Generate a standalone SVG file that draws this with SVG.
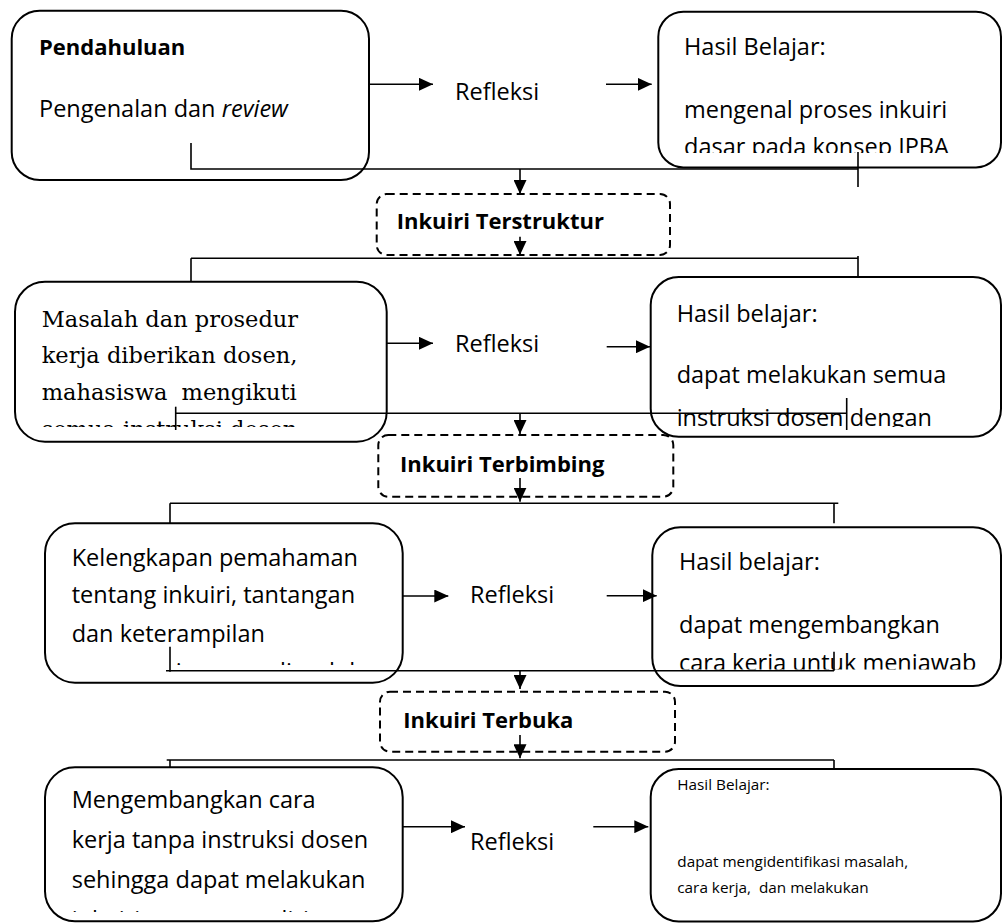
<svg xmlns="http://www.w3.org/2000/svg" width="1002" height="924" viewBox="0 0 1002 924">
  <defs>
    <style>
      .box { fill: none; stroke: #000; stroke-width: 2; }
      .dash { fill: none; stroke: #000; stroke-width: 2; stroke-dasharray: 8 5; }
      .ln { fill: none; stroke: #000; stroke-width: 1.6; }
      .arr { fill: none; stroke: #000; stroke-width: 1.6; marker-end: url(#head); }
      .t { font-family: "Open Sans", "Liberation Sans", sans-serif; font-size: 23.5px; fill: #000; }
      .b { font-family: "Open Sans", "Liberation Sans", sans-serif; font-size: 22px; font-weight: bold; fill: #000; }
      .s { font-family: "DejaVu Serif", "Liberation Serif", serif; font-size: 22.5px; fill: #000; }
      .sm { font-family: "Open Sans", "Liberation Sans", sans-serif; font-size: 15.3px; fill: #000; }
    </style>
    <marker id="head" viewBox="0 0 14 13" refX="14" refY="6.5" markerWidth="14" markerHeight="13" markerUnits="userSpaceOnUse" orient="auto">
      <path d="M0,0 L14,6.5 L0,13 Z" fill="#000"/>
    </marker>
    <!-- text areas that overflow their boxes are cut at these heights -->
    <clipPath id="c-b3"><rect x="650" y="0" width="352" height="153"/></clipPath>
    <clipPath id="c-b2"><rect x="0" y="270" width="400" height="157"/></clipPath>
    <clipPath id="c-b4"><rect x="650" y="270" width="352" height="157"/></clipPath>
    <clipPath id="c-b5"><rect x="40" y="520" width="370" height="145"/></clipPath>
    <clipPath id="c-b6"><rect x="650" y="520" width="352" height="149.5"/></clipPath>
    <clipPath id="c-b7"><rect x="40" y="760" width="370" height="152"/></clipPath>
  </defs>

  <rect width="1002" height="924" fill="#fff"/>

  <!-- Row 1 -->
  <g id="pendahuluan">
    <rect class="box" x="11.7" y="10.7" width="357.3" height="169.3" rx="28"/>
    <text class="b" x="39" y="55">Pendahuluan</text>
    <text class="t" x="39" y="117">Pengenalan dan <tspan font-style="italic">review</tspan></text>
  </g>
  <g id="refleksi-1">
    <text class="t" x="455" y="100">Refleksi</text>
  </g>
  <g id="hasil-1">
    <rect class="box" x="658.3" y="11.7" width="342.7" height="155.7" rx="25"/>
    <g clip-path="url(#c-b3)">
      <text class="t" x="684" y="55">Hasil Belajar:</text>
      <text class="t" x="684" y="118.3">mengenal proses inkuiri</text>
      <text class="t" x="684" y="155">dasar pada konsep IPBA</text>
    </g>
  </g>

  <g id="terstruktur">
    <rect class="dash" x="376.7" y="194" width="293.3" height="61" rx="10"/>
    <text class="b" x="396.7" y="229.3">Inkuiri Terstruktur</text>
  </g>

  <!-- Row 2 -->
  <g id="masalah">
    <rect class="box" x="15" y="281.7" width="371.7" height="160" rx="30"/>
    <g clip-path="url(#c-b2)">
      <text class="s" x="41.7" y="326.7">Masalah dan prosedur</text>
      <text class="s" x="41.7" y="363.3">kerja diberikan dosen,</text>
      <text class="s" x="41.7" y="400" xml:space="preserve">mahasiswa  mengikuti</text>
      <text class="s" x="41.7" y="436.7">semua instruksi dosen</text>
    </g>
  </g>
  <g id="refleksi-2">
    <text class="t" x="455" y="351.7">Refleksi</text>
  </g>
  <g id="hasil-2">
    <rect class="box" x="650.7" y="277" width="350.3" height="159.7" rx="28"/>
    <g clip-path="url(#c-b4)">
      <text class="t" x="676.7" y="321.7">Hasil belajar:</text>
      <text class="t" x="676.7" y="383.3">dapat melakukan semua</text>
      <text class="t" x="676.7" y="426">instruksi dosen dengan</text>
    </g>
  </g>

  <g id="terbimbing">
    <rect class="dash" x="378.3" y="435" width="295" height="61.7" rx="10"/>
    <text class="b" x="400" y="471.7">Inkuiri Terbimbing</text>
  </g>

  <!-- Row 3 -->
  <g id="kelengkapan">
    <rect class="box" x="45" y="523.3" width="357.7" height="159.4" rx="30"/>
    <g clip-path="url(#c-b5)">
      <text class="t" x="71.7" y="566">Kelengkapan pemahaman</text>
      <text class="t" x="71.7" y="603.3">tentang inkuiri, tantangan</text>
      <text class="t" x="71.7" y="641.7">dan keterampilan</text>
      <text class="t" x="71.7" y="679.7">proses sains yang diperlukan</text>
    </g>
  </g>
  <g id="refleksi-3">
    <text class="t" x="470" y="603.3">Refleksi</text>
  </g>
  <g id="hasil-3">
    <rect class="box" x="652.3" y="527.3" width="348.7" height="158.7" rx="28"/>
    <g clip-path="url(#c-b6)">
      <text class="t" x="679" y="570">Hasil belajar:</text>
      <text class="t" x="679" y="632.7">dapat mengembangkan</text>
      <text class="t" x="679" y="671">cara kerja untuk menjawab</text>
    </g>
  </g>

  <g id="terbuka">
    <rect class="dash" x="380" y="691.7" width="295" height="60" rx="10"/>
    <text class="b" x="403.3" y="728.3">Inkuiri Terbuka</text>
  </g>

  <!-- Row 4 -->
  <g id="mengembangkan">
    <rect class="box" x="45" y="767.3" width="357.7" height="154" rx="30"/>
    <g clip-path="url(#c-b7)">
      <text class="t" x="71.7" y="808.3">Mengembangkan cara</text>
      <text class="t" x="71.7" y="848.3">kerja tanpa instruksi dosen</text>
      <text class="t" x="71.7" y="888.3">sehingga dapat melakukan</text>
      <text class="t" x="71.7" y="928.3">inkuiri secara mandiri</text>
    </g>
  </g>
  <g id="refleksi-4">
    <text class="t" x="470" y="850">Refleksi</text>
  </g>
  <g id="hasil-4">
    <rect class="box" x="650.7" y="769" width="350.3" height="152.5" rx="28"/>
    <text class="sm" x="677.3" y="790">Hasil Belajar:</text>
    <text class="sm" x="677.3" y="866.7">dapat mengidentifikasi masalah,</text>
    <text class="sm" x="677.3" y="893.3" xml:space="preserve">cara kerja,  dan melakukan</text>
  </g>

  <!-- Connectors -->
  <g id="connectors">
    <!-- row 1 -->
    <line class="arr" x1="369" y1="84.3" x2="433" y2="84.3"/>
    <line class="arr" x1="606" y1="84.3" x2="651.7" y2="84.3"/>
    <polyline class="ln" points="191,143 191,169 858,169"/>
    <line class="ln" x1="858" y1="152" x2="858" y2="187"/>
    <line class="arr" x1="520" y1="169" x2="520" y2="194"/>
    <line class="arr" x1="520" y1="236.7" x2="520" y2="255"/>
    <line class="ln" x1="191" y1="258.3" x2="858" y2="258.3"/>
    <line class="ln" x1="191" y1="258.3" x2="191" y2="282"/>
    <line class="ln" x1="858" y1="256" x2="858" y2="277"/>

    <!-- row 2 -->
    <line class="arr" x1="386.7" y1="343.3" x2="433" y2="343.3"/>
    <line class="arr" x1="606.7" y1="346.7" x2="650" y2="346.7"/>
    <line class="ln" x1="175.7" y1="413.3" x2="846.7" y2="413.3"/>
    <line class="ln" x1="175.7" y1="406.7" x2="175.7" y2="430"/>
    <line class="ln" x1="846.7" y1="398" x2="846.7" y2="430"/>
    <line class="arr" x1="520" y1="413.3" x2="520" y2="434"/>
    <line class="arr" x1="520" y1="478" x2="520" y2="501.7"/>
    <line class="ln" x1="170" y1="503.3" x2="838.3" y2="503.3"/>
    <line class="ln" x1="170" y1="503.3" x2="170" y2="523.3"/>
    <line class="ln" x1="834" y1="503.3" x2="834" y2="523.3"/>

    <!-- row 3 -->
    <line class="arr" x1="402.7" y1="596" x2="448.3" y2="596"/>
    <line class="arr" x1="606.7" y1="595.7" x2="656.7" y2="595.7"/>
    <line class="ln" x1="166" y1="670.7" x2="834" y2="670.7"/>
    <line class="ln" x1="170" y1="646.7" x2="170" y2="671.7"/>
    <line class="ln" x1="834" y1="651.7" x2="834" y2="670.7"/>
    <line class="arr" x1="520" y1="670.7" x2="520" y2="689"/>
    <line class="arr" x1="520" y1="735" x2="520" y2="758.3"/>
    <line class="ln" x1="166.7" y1="760" x2="834" y2="760"/>
    <line class="ln" x1="170" y1="760" x2="170" y2="767.3"/>
    <line class="ln" x1="834" y1="760" x2="834" y2="769"/>

    <!-- row 4 -->
    <line class="arr" x1="402.7" y1="826.7" x2="465" y2="826.7"/>
    <line class="arr" x1="593.3" y1="826.7" x2="648.3" y2="826.7"/>
  </g>
</svg>
